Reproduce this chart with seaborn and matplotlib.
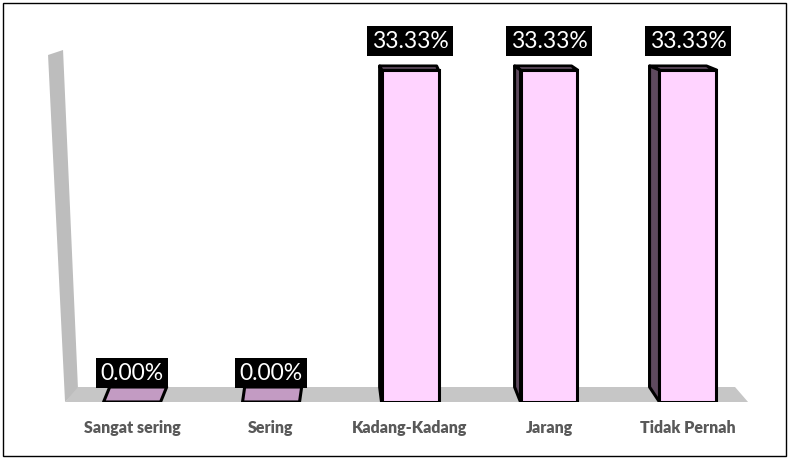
import matplotlib
matplotlib.use("Agg")
import matplotlib.pyplot as plt
from matplotlib.patches import Polygon, Rectangle
import seaborn as sns
import pandas as pd

kategori = ["Sangat sering", "Sering", "Kadang-Kadang", "Jarang", "Tidak Pernah"]
persen = [0.00, 0.00, 33.33, 33.33, 33.33]

sns.set_style("white")
plt.rcParams['font.family'] = ['Lato', 'DejaVu Sans']

W, H = 790, 459
fig = plt.figure(figsize=(W / 100, H / 100), dpi=100)
ax = fig.add_axes([0, (H - 402) / H, 1, (402 - 20) / H])

df = pd.DataFrame({"kategori": kategori, "persen": persen})
sns.barplot(data=df, x="kategori", y="persen", color="#FFD3FF", edgecolor="black",
            linewidth=2.2, width=0.41, saturation=1, ax=ax, zorder=5)

ax.set_xlim(-0.95, 4.734)
ax.set_ylim(0, 38.35)

# skala piksel -> data
sx = (4.734 + 0.95) / W
sy = 38.35 / (402 - 20)

# lantai & dinding abu-abu (gaya 3D)
lantai = [(65, 402), (748, 402), (735, 387), (78, 387)]
dinding = [(48, 55), (63, 50), (78, 390), (65, 402)]
to_data = lambda p: ((p[0] - 132) * sx, (402 - p[1]) * sy)
ax.add_patch(Polygon([to_data(p) for p in dinding], closed=True, fc="#BDBDBD",
                     ec="none", clip_on=False, zorder=1))
ax.add_patch(Polygon([to_data(p) for p in lantai], closed=True, fc="#C6C6C6",
                     ec="none", clip_on=False, zorder=1))

# sisi atas & samping batang
vp = 345
batang = [p for p in ax.patches if isinstance(p, Rectangle)]
for bar in batang:
    x0 = bar.get_x()
    x1 = x0 + bar.get_width()
    h = bar.get_height()
    cx_px = (x0 + x1) / 2 / sx + 132
    dx = (vp - cx_px) * 0.029 * sx
    dy_top = (15 - h * 0.33) * sy
    dy_bot = 15 * sy
    atas = [(x0, h), (x1, h), (x1 + dx, h + dy_top), (x0 + dx, h + dy_top)]
    warna_atas = "#C39BC3" if h == 0 else "#B08CB0"
    ax.add_patch(Polygon(atas, closed=True, fc=warna_atas, ec="black", lw=2.2,
                         joinstyle="round", zorder=4))
    if h > 0 and dx < 0:
        samping = [(x0, 0), (x0, h), (x0 + dx, h + dy_top), (x0 + dx, dy_bot)]
        ax.add_patch(Polygon(samping, closed=True, fc="#5E4A5E", ec="black", lw=2.2,
                             joinstyle="round", zorder=4))

# label persen
for i, v in enumerate(persen):
    ax.annotate(f"{v:.2f}%", (i, v), xytext=(0, 29), textcoords="offset pixels",
                ha="center", va="center", color="white", fontsize=16.5,
                bbox=dict(boxstyle="square,pad=0.2", fc="black", ec="none"), zorder=6)

ax.set_xlabel("")
ax.set_ylabel("")
ax.set_yticks([])
ax.tick_params(axis="x", length=0, pad=13, labelsize=11.5, labelcolor="#595959")
for lbl in ax.get_xticklabels():
    lbl.set_fontweight("heavy")
sns.despine(ax=ax, left=True, bottom=True)
ax.patch.set_alpha(0)

fig.patches.append(Rectangle((3 / W, 3 / H), 783 / W, 453 / H, transform=fig.transFigure,
                             fill=False, ec="black", lw=1))
fig.savefig("out.png", dpi=100)
